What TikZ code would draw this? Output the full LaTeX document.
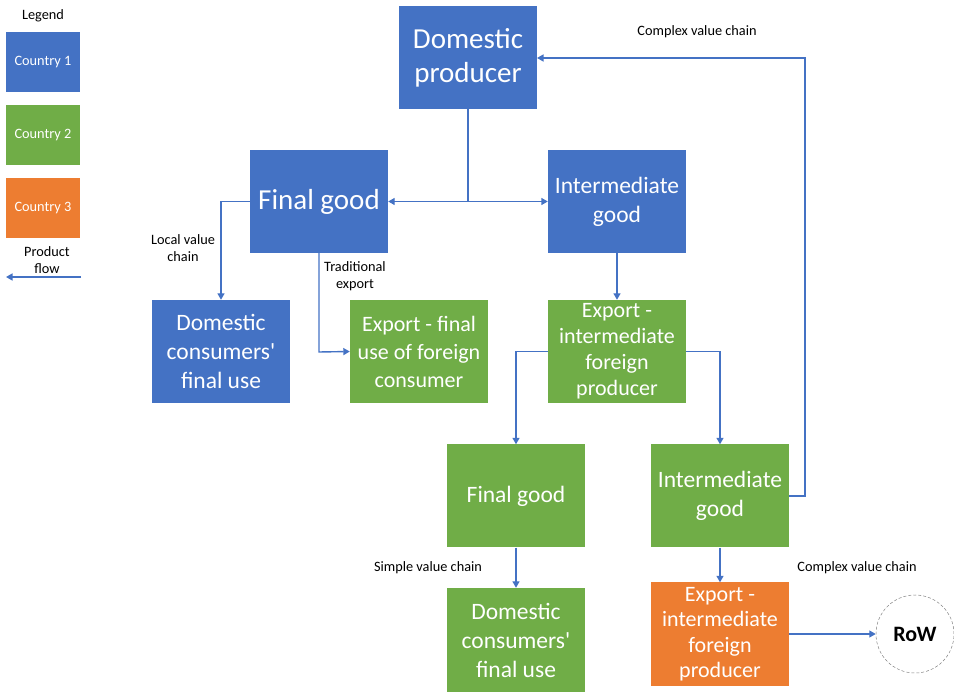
\documentclass[tikz,border=0pt]{standalone}
\usepackage{fontspec}
\setmainfont{Carlito}
\usetikzlibrary{arrows.meta}
\definecolor{cblue}{HTML}{4472C4}
\definecolor{cgreen}{HTML}{70AD47}
\definecolor{corange}{HTML}{ED7D31}
\definecolor{lineblue}{HTML}{4472C4}
\tikzset{
  box/.style={minimum width=138pt, minimum height=103pt, text=white, align=center, inner sep=0pt},
  bigtxt/.style={font=\fontsize{29}{34}\selectfont},
  midtxt/.style={font=\fontsize{23.5}{29}\selectfont},
  smalltxt/.style={font=\fontsize{22}{26}\selectfont},
  lbl/.style={font=\fontsize{14.3}{17}\selectfont, align=center, inner sep=0pt},
  legbox/.style={minimum width=74pt, minimum height=60pt, text=white, inner sep=0pt, font=\fontsize{14.3}{17}\selectfont},
  flow/.style={draw=lineblue, line width=1.4pt, -{Triangle[width=7pt,length=6.5pt]}},
  flowplain/.style={draw=lineblue, line width=1.4pt}
}
\begin{document}
\begin{tikzpicture}[x=1pt,y=-1pt]
\useasboundingbox (0,0) rectangle (954,692);
% legend
\node[lbl] (leg) at (43,16) {Legend};
\node[legbox, fill=cblue] (l1) at (43,62) {Country 1};
\node[legbox, fill=cgreen] (l2) at (43,135) {Country 2};
\node[legbox, fill=corange] (l3) at (43,208.5) {Country 3};
\node[lbl] (pf) at (47,260) {Product\\flow};
\coordinate (pfa) at (81,277);
\coordinate (pfb) at (6,277);
\draw[flow] (pfa) -- (pfb);
% boxes
\node[box, bigtxt, fill=cblue] (dp) at (468,57.5) {Domestic\\producer};
\node[box, bigtxt, fill=cblue] (fg1) at (319,201.5) {Final good};
\node[box, midtxt, fill=cblue] (ig1) at (617,201.5) {Intermediate\\good};
\node[box, midtxt, fill=cblue] (dc1) at (221,351.5) {Domestic\\consumers\textquotesingle\\final use};
\node[box, smalltxt, font=\fontsize{22}{28}\selectfont, fill=cgreen] (ef) at (419,351.5) {Export - final\\use of foreign\\consumer};
\node[box, smalltxt, fill=cgreen] (ei) at (617,351.5) {Export -\\intermediate\\foreign\\producer};
\node[box, midtxt, fill=cgreen] (fg2) at (516,496) {Final good};
\node[box, midtxt, fill=cgreen] (ig2) at (720,496) {Intermediate\\good};
\node[box, midtxt, fill=cgreen, minimum height=104pt] (dc2) at (516,640) {Domestic\\consumers\textquotesingle\\final use};
\node[box, smalltxt, font=\fontsize{22}{25.5}\selectfont, fill=corange] (ox) at (720,634) {Export -\\intermediate\\foreign\\producer};
\node[circle, draw=gray, densely dashed, line width=0.5pt, minimum size=78pt, inner sep=0pt, font=\fontsize{22}{26}\selectfont\bfseries] (row) at (915,634) {RoW};
% labels
\node[lbl] (t1) at (697,32) {Complex value chain};
\node[lbl] (t2) at (183,248) {Local value\\chain};
\node[lbl] (t3) at (355,276) {Traditional\\export};
\node[lbl] (t4) at (428,568) {Simple value chain};
\node[lbl] (t5) at (857,568) {Complex value chain};
% connectors
\coordinate (j1) at (468,201.5);
\draw[flowplain] (dp.south) -- (j1);
\draw[flow] (j1) -- (fg1.east);
\draw[flow] (j1) -- (ig1.west);
\coordinate (c1) at (221,201.5);
\draw[flow] (fg1.west) -- (c1) -- (dc1.north);
\coordinate (c2) at (319,352);
\draw[flow] (fg1.south) -- (c2) -- (ef.west);
\draw[flow] (ig1.south) -- (ei.north);
\coordinate (c3) at (516,351.5);
\draw[flow] (ei.west) -- (c3) -- (fg2.north);
\coordinate (c4) at (720,351.5);
\draw[flow] (ei.east) -- (c4) -- (ig2.north);
\coordinate (c5) at (805,496);
\coordinate (c6) at (805,58);
\coordinate (c7) at (537,58);
\draw[flow] (ig2.east) -- (c5) -- (c6) -- (c7);
\draw[flow] (fg2.south) -- (dc2.north);
\draw[flow] (ig2.south) -- (ox.north);
\draw[flow] (ox.east) -- (row.west);
\end{tikzpicture}
\end{document}
